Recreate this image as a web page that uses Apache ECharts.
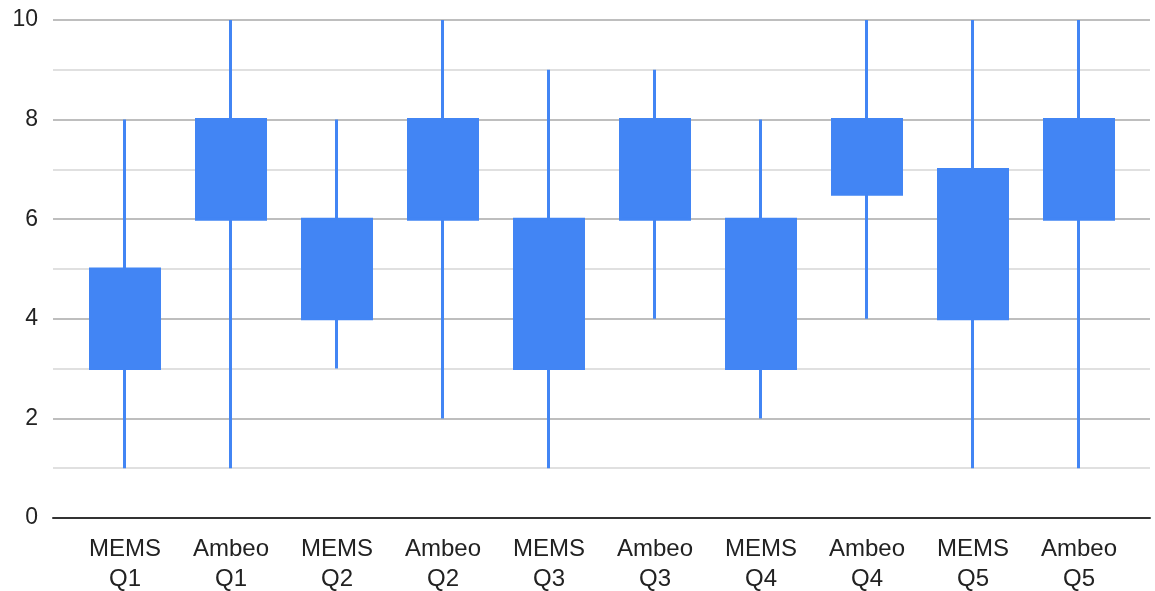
<!DOCTYPE html>
<html>
<head>
<meta charset="utf-8">
<title>MEMS vs Ambeo</title>
<script src="https://cdn.jsdelivr.net/npm/echarts@6/dist/echarts.min.js"></script>
<style>
  html, body { margin: 0; padding: 0; background: #ffffff; }
  #chart { width: 1155px; height: 591px; }
</style>
</head>
<body>
<div id="chart"></div>
<script>
// Categories along the x axis (two-line labels)
const categories = [
  'MEMS\nQ1', 'Ambeo\nQ1', 'MEMS\nQ2', 'Ambeo\nQ2', 'MEMS\nQ3',
  'Ambeo\nQ3', 'MEMS\nQ4', 'Ambeo\nQ4', 'MEMS\nQ5', 'Ambeo\nQ5'
];
// Candle values per category
const lowValues   = [1, 1, 3, 2, 1, 4, 2, 4,   1, 1];
const openValues  = [3, 6, 4, 6, 3, 6, 3, 6.5, 4, 6];
const closeValues = [5, 8, 6, 8, 6, 8, 6, 8,   7, 8];
const highValues  = [8, 10, 8, 10, 9, 9, 8, 10, 10, 10];
// Value axis range and tick step
const yMin = 0;
const yMax = 10;
const yStep = 2;

const candleData = categories.map((_, i) => [openValues[i], closeValues[i], lowValues[i], highValues[i]]);

const blue = '#4285F4';
const font = "'Liberation Sans', Arial, sans-serif";
const chart = echarts.init(document.getElementById('chart'));
chart.setOption({
  animation: false,
  backgroundColor: '#ffffff',
  textStyle: { fontFamily: font },
  grid: [
    // gridlines and value labels span the full width
    { left: 53, right: 5, top: 20, bottom: 73, outerBoundsMode: 'none' },
    // candles sit in a slightly inset band
    { left: 72, right: 23, top: 20, bottom: 73, outerBoundsMode: 'none' }
  ],
  xAxis: [
    {
      gridIndex: 0, type: 'value', min: 0, max: 1,
      axisLine: { show: true, onZero: false, lineStyle: { color: '#333333', width: 2 } },
      axisTick: { show: false }, axisLabel: { show: false }, splitLine: { show: false }
    },
    {
      gridIndex: 1, type: 'category', data: categories, boundaryGap: true,
      axisLine: { show: false }, axisTick: { show: false },
      axisLabel: {
        interval: 0, color: '#222222', fontFamily: font,
        fontSize: 24, lineHeight: 30, margin: 16
      }
    }
  ],
  yAxis: [
    {
      gridIndex: 0, type: 'value', min: yMin, max: yMax, interval: yStep,
      axisLine: { show: false }, axisTick: { show: false },
      axisLabel: { color: '#222222', fontFamily: font, fontSize: 23, margin: 15, lineHeight: 28, padding: [4, 0, 0, 0] },
      splitLine: { show: true, lineStyle: { color: '#a8a8a8', width: 1.5 } },
      minorTick: { show: false, splitNumber: 2 },
      minorSplitLine: { show: true, lineStyle: { color: '#d6d6d6', width: 1.5 } }
    },
    {
      gridIndex: 1, type: 'value', min: yMin, max: yMax, interval: yStep,
      show: false, splitLine: { show: false }
    }
  ],
  series: [
    {
      type: 'candlestick',
      xAxisIndex: 1, yAxisIndex: 1,
      data: candleData,
      barWidth: 70,
      itemStyle: {
        color: blue, color0: blue,
        borderColor: blue, borderColor0: blue,
        borderWidth: 3
      }
    }
  ]
});
</script>
</body>
</html>
